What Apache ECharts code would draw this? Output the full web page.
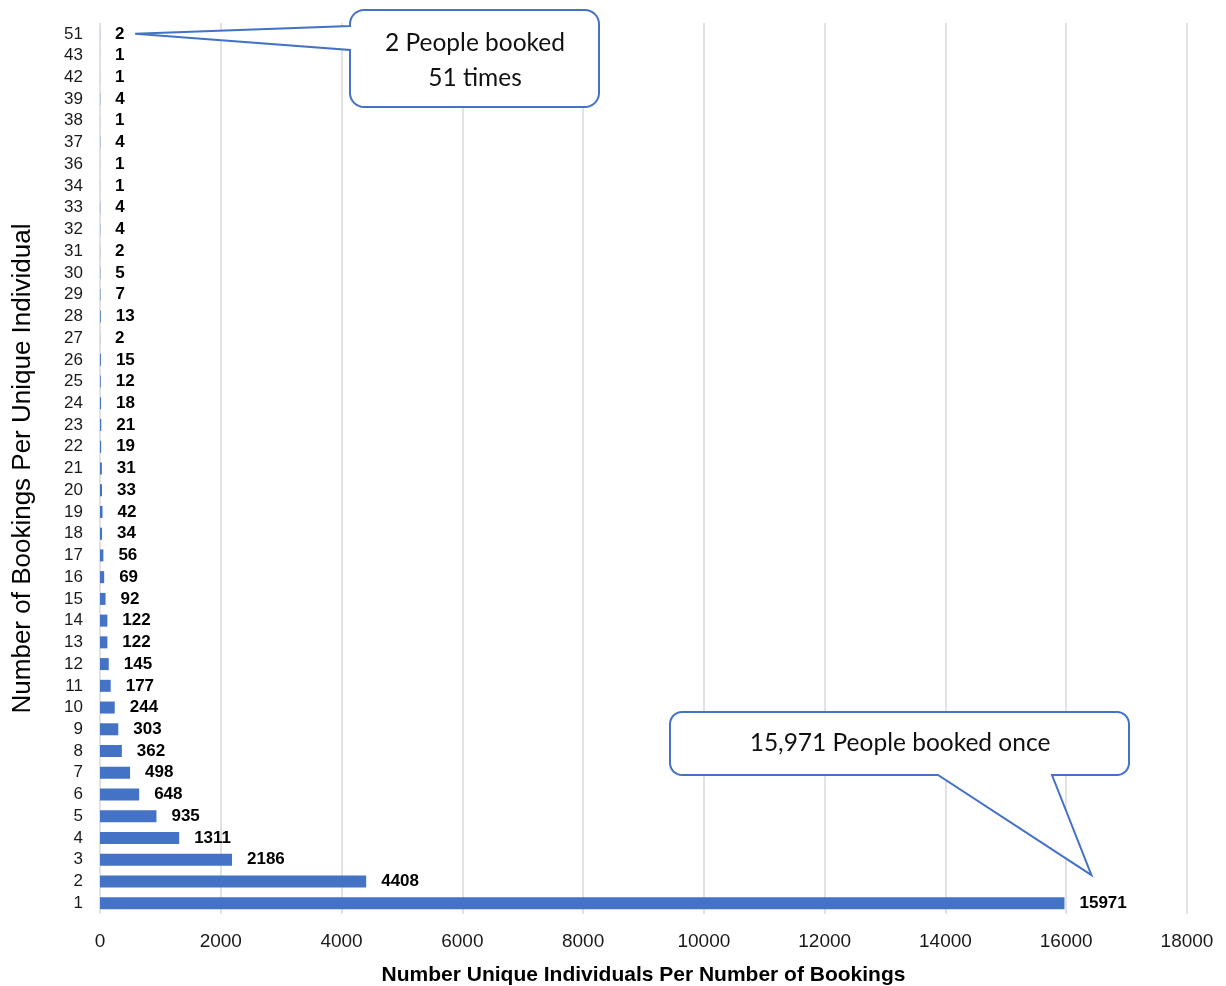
<!DOCTYPE html>
<html>
<head>
<meta charset="utf-8">
<script src="https://cdn.jsdelivr.net/npm/echarts@6/dist/echarts.min.js"></script>
<style>
  html, body { margin: 0; padding: 0; background: #fff; }
  #chart { width: 1226px; height: 986px; }
</style>
</head>
<body>
<div id="chart"></div>
<script>
// Number of bookings made by one individual (category axis, bottom to top)
const bookingCounts = ['1','2','3','4','5','6','7','8','9','10','11','12','13','14','15','16','17',
  '18','19','20','21','22','23','24','25','26','27','28','29','30','31','32','33','34',
  '36','37','38','39','42','43','51'];
// Number of unique individuals with that many bookings
const individuals = [15971, 4408, 2186, 1311, 935, 648, 498, 362, 303, 244, 177, 145, 122, 122, 92, 69, 56,
  34, 42, 33, 31, 19, 21, 18, 12, 15, 2, 13, 7, 5, 2, 4, 4, 1,
  1, 4, 1, 4, 1, 1, 2];
const xTicks = { min: 0, max: 18000, interval: 2000 };

const BLUE = '#4472C4';
const FONT = "'Liberation Sans', Arial";
const chart = echarts.init(document.getElementById('chart'));

chart.setOption({
  animation: false,
  backgroundColor: '#ffffff',
  grid: { left: 100, right: 39, top: 23, bottom: 72, outerBoundsMode: 'none', containLabel: false },
  xAxis: {
    type: 'value',
    min: xTicks.min, max: xTicks.max, interval: xTicks.interval,
    name: 'Number Unique Individuals Per Number of Bookings',
    nameLocation: 'middle',
    nameGap: 51,
    nameTextStyle: { fontFamily: FONT, fontSize: 21, fontWeight: 'bold', color: '#000' },
    axisLine: { show: false },
    axisTick: { show: false },
    axisLabel: { fontFamily: FONT, fontSize: 19, color: '#1a1a1a', margin: 18, formatter: v => String(v) },
    splitLine: { show: true, lineStyle: { color: '#d9d9d9', width: 1.5 } }
  },
  yAxis: {
    type: 'category',
    data: bookingCounts,
    name: 'Number of Bookings Per Unique Individual',
    nameLocation: 'middle',
    nameGap: 64,
    nameTextStyle: { fontFamily: FONT, fontSize: 26, color: '#000' },
    axisLine: { show: false },
    axisTick: { show: false },
    axisLabel: { fontFamily: FONT, fontSize: 17, color: '#1a1a1a', margin: 17, interval: 0 }
  },
  series: [{
    type: 'bar',
    data: individuals,
    barWidth: 12,
    itemStyle: { color: BLUE },
    label: {
      show: true,
      position: 'right',
      distance: 15,
      fontFamily: FONT,
      fontSize: 17,
      fontWeight: 'bold',
      color: '#000'
    }
  }]
});

// Quarter-circle corner points
function corner(cx, cy, r, a0, a1) {
  const pts = [];
  for (let i = 0; i <= 8; i++) {
    const a = a0 + (a1 - a0) * i / 8;
    pts.push([cx + r * Math.cos(a), cy + r * Math.sin(a)]);
  }
  return pts;
}

// Rounded box outline with a wedge pointing to a tip; wedge on the left or bottom edge
function calloutPoints(x, y, w, h, r, side, a, b, tip) {
  const P = Math.PI;
  let pts = [];
  pts = pts.concat(corner(x + w - r, y + r, r, -P / 2, 0));          // top-right
  pts = pts.concat(corner(x + w - r, y + h - r, r, 0, P / 2));       // bottom-right
  if (side === 'bottom') pts.push([a, y + h], tip, [b, y + h]);
  pts = pts.concat(corner(x + r, y + h - r, r, P / 2, P));           // bottom-left
  if (side === 'left') pts.push([x, a], tip, [x, b]);
  pts = pts.concat(corner(x + r, y + r, r, P, 1.5 * P));             // top-left
  return pts;
}

function drawCallouts() {
  const last = bookingCounts.length - 1;
  const topEnd = chart.convertToPixel({ seriesIndex: 0 }, [individuals[last], bookingCounts[last]]);
  const firstEnd = chart.convertToPixel({ seriesIndex: 0 }, [individuals[0], bookingCounts[0]]);
  const tip1 = [topEnd[0] + 35, topEnd[1]];
  const tip2 = [firstEnd[0] + 27, firstEnd[1] - 28];
  const ts = { fontFamily: 'Lato, Open Sans, sans-serif', fontSize: 24.5, fill: '#111', textAlign: 'center', textVerticalAlign: 'middle' };
  chart.setOption({
    graphic: [
      {
        type: 'polygon', z: 100,
        shape: { points: calloutPoints(350, 10, 249, 97, 14, 'left', 50, 26, tip1) },
        style: { fill: '#fff', stroke: BLUE, lineWidth: 2 }
      },
      { type: 'text', z: 101, style: Object.assign({ text: '2 People booked', x: 475, y: 43 }, ts) },
      { type: 'text', z: 101, style: Object.assign({ text: '51 times', x: 475, y: 78 }, ts) },
      {
        type: 'polygon', z: 100,
        shape: { points: calloutPoints(670, 712, 459, 63, 12, 'bottom', 1052, 938, tip2) },
        style: { fill: '#fff', stroke: BLUE, lineWidth: 2 }
      },
      { type: 'text', z: 101, style: Object.assign({ text: '15,971 People booked once', x: 900, y: 743 }, ts) }
    ]
  });
}
drawCallouts();
</script>
</body>
</html>
